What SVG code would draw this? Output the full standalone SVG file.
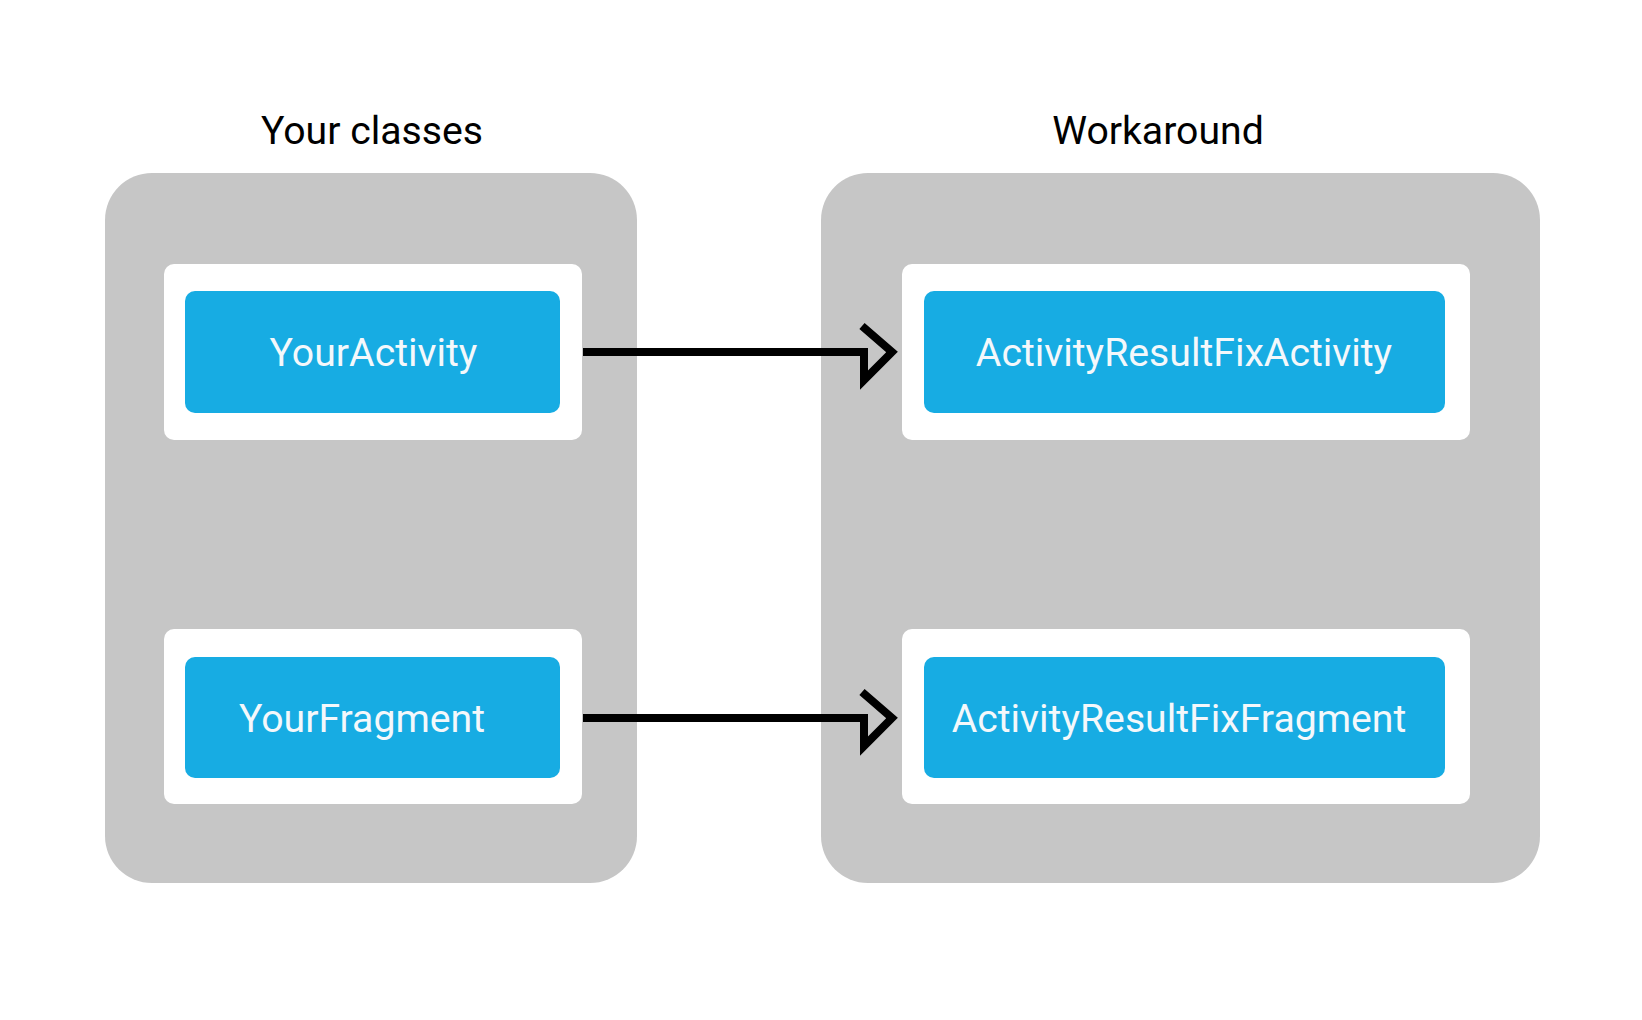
<svg xmlns="http://www.w3.org/2000/svg" width="1642" height="1020" viewBox="0 0 1642 1020">
<style>
.title{font-family:Roboto,"Liberation Sans",sans-serif;font-size:39.2px;fill:#000;text-anchor:middle}
.lbl{font-family:Roboto,"Liberation Sans",sans-serif;font-size:39.2px;fill:#f4f8fb;text-anchor:middle}
.grp{fill:#c6c6c6}
.card{fill:#fff}
.blue{fill:#17ace3}
.conn{fill:none;stroke:#000;stroke-width:8;stroke-linejoin:miter;stroke-miterlimit:10}
</style>
<rect width="1642" height="1020" fill="#fff"/>
<g id="group-left">
<rect class="grp" x="105" y="173" width="532" height="710" rx="47" ry="47"/>
<text class="title" x="372" y="144">Your classes</text>
</g>
<g id="group-right">
<rect class="grp" x="821" y="173" width="719" height="710" rx="47" ry="47"/>
<text class="title" x="1158" y="144">Workaround</text>
</g>
<g id="your-activity">
<rect class="card" x="164" y="264" width="418" height="176" rx="10"/>
<rect class="blue" x="185" y="291" width="375" height="122" rx="10"/>
<text class="lbl" x="373.5" y="366">YourActivity</text>
</g>
<g id="your-fragment">
<rect class="card" x="164" y="629" width="418" height="175" rx="10"/>
<rect class="blue" x="185" y="657" width="375" height="121" rx="10"/>
<text class="lbl" x="362" y="732">YourFragment</text>
</g>
<g id="fix-activity">
<rect class="card" x="902" y="264" width="568" height="176" rx="10"/>
<rect class="blue" x="924" y="291" width="521" height="122" rx="10"/>
<text class="lbl" x="1184" y="366">ActivityResultFixActivity</text>
</g>
<g id="fix-fragment">
<rect class="card" x="902" y="629" width="568" height="175" rx="10"/>
<rect class="blue" x="924" y="657" width="521" height="121" rx="10"/>
<text class="lbl" x="1179" y="732">ActivityResultFixFragment</text>
</g>
<g id="connectors">
<path class="conn" d="M583,352 L864,352 L864,380 L892,352 L862,326"/>
<path class="conn" d="M583,718 L864,718 L864,746 L892,718 L862,692"/>
</g>
</svg>
